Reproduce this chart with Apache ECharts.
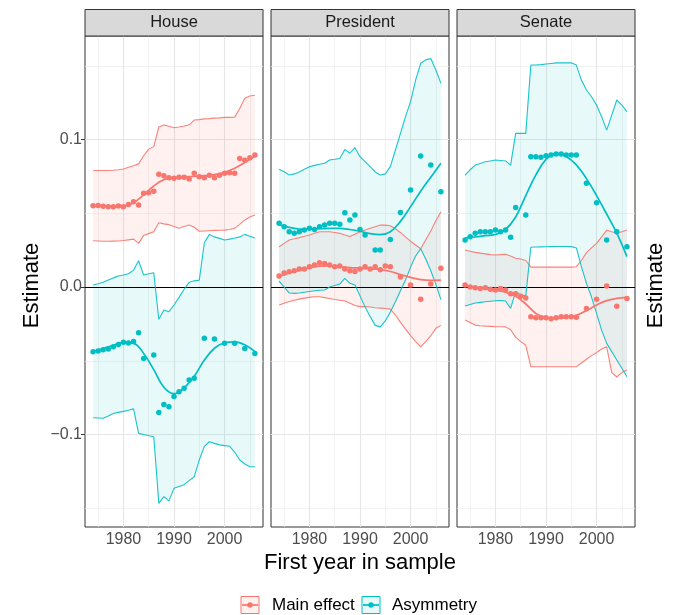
<!DOCTYPE html>
<html>
<head>
<meta charset="utf-8">
<title>Estimate by first year in sample</title>
<script src="https://cdn.jsdelivr.net/npm/echarts@6.0.0/dist/echarts.min.js"></script>
<style>
  html, body { margin: 0; padding: 0; background: #ffffff; }
  #chart { width: 677px; height: 615px; }
</style>
</head>
<body>
<div id="chart"></div>
<script>
// ---- data -------------------------------------------------------------
const panelNames = ['House', 'President', 'Senate'];
const seriesNames = ['Main effect', 'Asymmetry'];
const xTicks = [1980, 1990, 2000];
const yTicks = [-0.1, 0, 0.1];

const years = [1974, 1975, 1976, 1977, 1978, 1979, 1980, 1981, 1982, 1983,
               1984, 1985, 1986, 1987, 1988, 1989, 1990, 1991, 1992, 1993,
               1994, 1995, 1996, 1997, 1998, 1999, 2000, 2001, 2002, 2003,
               2004, 2005, 2006];
const fitYears = [1974, 1976, 1978, 1980, 1982, 1984, 1986, 1988, 1990,
                  1992, 1994, 1996, 1998, 2000, 2002, 2004, 2006];

// House
const houseMainPts = [0.0551, 0.0552, 0.0548, 0.0545, 0.0545, 0.0549, 0.0544, 0.0560, 0.0578, 0.0556,
                      0.0635, 0.0640, 0.0650, 0.0764, 0.0755, 0.0741, 0.0737, 0.0745, 0.0745, 0.0733,
                      0.0771, 0.0748, 0.0741, 0.0758, 0.0741, 0.0758, 0.0771, 0.0775, 0.0771, 0.0872,
                      0.0860, 0.0877, 0.0895];
const houseMainHi = [0.0790, 0.0790, 0.0790, 0.0790, 0.0792, 0.0795, 0.0800, 0.0812, 0.0822, 0.0835,
                     0.0890, 0.0935, 0.0952, 0.1085, 0.1098, 0.1090, 0.1080, 0.1085, 0.1092, 0.1100,
                     0.1132, 0.1135, 0.1140, 0.1142, 0.1145, 0.1147, 0.1150, 0.1150, 0.1152, 0.1210,
                     0.1280, 0.1295, 0.1300];
const houseMainLo = [0.0314, 0.0312, 0.0310, 0.0310, 0.0311, 0.0312, 0.0315, 0.0320, 0.0325, 0.0296,
                     0.0350, 0.0362, 0.0375, 0.0436, 0.0428, 0.0423, 0.0410, 0.0398, 0.0410, 0.0420,
                     0.0405, 0.0378, 0.0380, 0.0382, 0.0384, 0.0385, 0.0386, 0.0390, 0.0398, 0.0425,
                     0.0455, 0.0475, 0.0488];
const houseMainFit = [0.0551, 0.0547, 0.0545, 0.0548, 0.0572, 0.0625, 0.0685, 0.0728, 0.0743,
                      0.0747, 0.0751, 0.0755, 0.0762, 0.0778, 0.0805, 0.0845, 0.0886];
const houseAsymPts = [-0.0438, -0.0434, -0.0425, -0.0420, -0.0405, -0.0389, -0.0375, -0.0380, -0.0370, -0.0310,
                      -0.0484, null, -0.0461, -0.0850, -0.0796, -0.0811, -0.0743, -0.0710, -0.0687, -0.0630,
                      -0.0619, null, -0.0348, null, -0.0352, null, -0.0382, null, -0.0382, null,
                      -0.0416, null, -0.0450];
const houseAsymHi = [0.0014, 0.0022, 0.0032, 0.0047, 0.0062, 0.0075, 0.0082, 0.0090, 0.0115, 0.0178,
                     0.0081, 0.0090, 0.0097, -0.0219, -0.0156, -0.0167, -0.0122, -0.0070, -0.0015, 0.0032,
                     0.0042, 0.0047, 0.0300, 0.0357, 0.0340, 0.0330, 0.0319, 0.0325, 0.0332, 0.0340,
                     0.0357, 0.0345, 0.0332];
const houseAsymLo = [-0.0886, -0.0888, -0.0890, -0.0875, -0.0857, -0.0850, -0.0843, -0.0835, -0.0826, -0.0992,
                     -0.1000, -0.1008, -0.1015, -0.1467, -0.1421, -0.1450, -0.1365, -0.1352, -0.1340, -0.1313,
                     -0.1286, -0.1173, -0.1080, -0.1049, -0.1060, -0.1070, -0.1075, -0.1080, -0.1120, -0.1173,
                     -0.1200, -0.1218, -0.1218];
const houseAsymFit = [-0.0437, -0.0415, -0.0395, -0.0377, -0.0382, -0.0450, -0.0560, -0.0680, -0.0723,
                      -0.0683, -0.0605, -0.0495, -0.0415, -0.0378, -0.0372, -0.0392, -0.0438];

// President
const presMainPts = [0.0075, 0.0095, 0.0104, 0.0111, 0.0122, 0.0122, 0.0138, 0.0149, 0.0165, 0.0160,
                     0.0149, 0.0138, 0.0143, 0.0122, 0.0111, 0.0106, 0.0122, 0.0138, 0.0122, 0.0138,
                     0.0118, 0.0143, 0.0138, null, 0.0068, null, 0.0014, null, -0.0083, null,
                     0.0020, null, 0.0127];
const presMainHi = [0.0273, 0.0296, 0.0319, 0.0327, 0.0335, 0.0344, 0.0353, 0.0364, 0.0375, 0.0375,
                    0.0375, 0.0370, 0.0364, 0.0353, 0.0342, 0.0358, 0.0375, 0.0386, 0.0398, 0.0409,
                    0.0420, 0.0420, 0.0415, 0.0395, 0.0370, 0.0340, 0.0310, 0.0285, 0.0260, 0.0320,
                    0.0380, 0.0450, 0.0510];
const presMainLo = [-0.0122, -0.0110, -0.0098, -0.0090, -0.0082, -0.0075, -0.0070, -0.0066, -0.0066, -0.0072,
                    -0.0078, -0.0085, -0.0090, -0.0095, -0.0110, -0.0125, -0.0133, -0.0133, -0.0135, -0.0140,
                    -0.0143, -0.0146, -0.0150, -0.0190, -0.0240, -0.0285, -0.0330, -0.0370, -0.0405, -0.0370,
                    -0.0330, -0.0280, -0.0260];
const presMainFit = [0.0072, 0.0095, 0.0115, 0.0130, 0.0142, 0.0143, 0.0138, 0.0132, 0.0128,
                     0.0124, 0.0118, 0.0105, 0.0085, 0.0065, 0.0050, 0.0045, 0.0047];
const presAsymPts = [0.0432, 0.0409, 0.0375, 0.0364, 0.0375, 0.0387, 0.0398, 0.0390, 0.0409, 0.0420,
                     0.0432, 0.0432, 0.0425, 0.0504, 0.0454, 0.0488, 0.0390, 0.0353, null, 0.0251,
                     0.0251, null, 0.0323, null, 0.0506, null, 0.0658, null, 0.0888, null,
                     0.0827, null, 0.0646];
const presAsymHi = [0.0798, 0.0782, 0.0759, 0.0767, 0.0780, 0.0798, 0.0816, 0.0825, 0.0832, 0.0839,
                    0.0861, 0.0866, 0.0872, 0.0933, 0.0907, 0.0945, 0.0884, 0.0850, 0.0816, 0.0780,
                    0.0759, 0.0767, 0.0816, 0.0929, 0.1042, 0.1155, 0.1257, 0.1403, 0.1517, 0.1540,
                    0.1550, 0.1471, 0.1381];
const presAsymLo = [0.0040, 0.0000, -0.0040, -0.0043, -0.0040, -0.0035, -0.0030, -0.0025, -0.0022, -0.0020,
                    0.0000, 0.0010, 0.0020, 0.0059, 0.0025, 0.0014, -0.0060, -0.0135, -0.0200, -0.0260,
                    -0.0270, -0.0230, -0.0170, -0.0100, -0.0025, 0.0047, 0.0135, 0.0210, 0.0260, 0.0190,
                    0.0110, 0.0020, -0.0085];
const presAsymFit = [0.0423, 0.0405, 0.0393, 0.0392, 0.0395, 0.0398, 0.0398, 0.0390, 0.0378,
                     0.0362, 0.0355, 0.0375, 0.0445, 0.0545, 0.0650, 0.0745, 0.0839];

// Senate
const senMainPts = [0.0014, 0.0000, -0.0005, -0.0010, -0.0005, -0.0015, -0.0020, -0.0010, -0.0020, -0.0045,
                    -0.0045, -0.0063, -0.0075, -0.0201, -0.0208, -0.0208, -0.0208, -0.0215, -0.0208, -0.0201,
                    -0.0201, -0.0201, -0.0205, null, -0.0145, null, -0.0083, null, 0.0007, null,
                    -0.0130, null, -0.0077];
const senMainHi = [0.0251, 0.0243, 0.0235, 0.0230, 0.0225, 0.0220, 0.0217, 0.0220, 0.0222, 0.0210,
                   0.0195, 0.0190, 0.0180, 0.0135, 0.0135, 0.0135, 0.0135, 0.0135, 0.0135, 0.0135,
                   0.0135, 0.0135, 0.0138, 0.0180, 0.0233, 0.0265, 0.0296, 0.0340, 0.0386, 0.0375,
                   0.0364, 0.0375, 0.0386];
const senMainLo = [-0.0224, -0.0240, -0.0258, -0.0262, -0.0265, -0.0267, -0.0269, -0.0269, -0.0270, -0.0290,
                   -0.0340, -0.0370, -0.0395, -0.0540, -0.0540, -0.0540, -0.0540, -0.0540, -0.0540, -0.0540,
                   -0.0540, -0.0540, -0.0540, -0.0515, -0.0490, -0.0465, -0.0445, -0.0420, -0.0405, -0.0580,
                   -0.0610, -0.0580, -0.0563];
const senMainFit = [0.0014, -0.0002, -0.0012, -0.0023, -0.0035, -0.0063, -0.0115, -0.0179, -0.0205,
                    -0.0213, -0.0208, -0.0192, -0.0160, -0.0122, -0.0092, -0.0077, -0.0070];
const senAsymPts = [0.0319, 0.0341, 0.0364, 0.0375, 0.0375, 0.0375, 0.0387, 0.0375, 0.0387, 0.0337,
                    0.0540, null, 0.0488, 0.0884, 0.0884, 0.0880, 0.0890, 0.0895, 0.0902, 0.0902,
                    0.0895, 0.0895, 0.0895, null, 0.0703, null, 0.0572, null, 0.0319, null,
                    0.0375, null, 0.0273];
const senAsymHi = [0.0759, 0.0795, 0.0827, 0.0838, 0.0849, 0.0855, 0.0861, 0.0858, 0.0855, 0.0827,
                   0.1042, 0.1042, 0.1042, 0.1505, 0.1505, 0.1508, 0.1512, 0.1516, 0.1520, 0.1520,
                   0.1520, 0.1520, 0.1505, 0.1403, 0.1336, 0.1290, 0.1234, 0.1155, 0.1064, 0.1166,
                   0.1268, 0.1234, 0.1189];
const senAsymLo = [-0.0129, -0.0118, -0.0108, -0.0104, -0.0100, -0.0096, -0.0093, -0.0092, -0.0095, -0.0145,
                   -0.0032, -0.0054, -0.0060, 0.0270, 0.0271, 0.0272, 0.0273, 0.0274, 0.0275, 0.0275,
                   0.0275, 0.0274, 0.0265, 0.0138, 0.0025, -0.0068, -0.0179, -0.0292, -0.0382, -0.0438,
                   -0.0495, -0.0551, -0.0608];
const senAsymFit = [0.0333, 0.0340, 0.0348, 0.0356, 0.0390, 0.0475, 0.0620, 0.0760, 0.0865,
                    0.0905, 0.0885, 0.0828, 0.0735, 0.0620, 0.0495, 0.0365, 0.0206];

// ---- layout & style ---------------------------------------------------
const FONT = "'Liberation Sans', Arial, Helvetica, sans-serif";
const COLORS = ['#F8766D', '#00BFC4'];
const FILLS = ['rgba(248,118,109,0.10)', 'rgba(0,191,196,0.09)'];
const panelLeft = [85, 271, 457];
const panelWidth = 178;
const plotTop = 36;
const plotHeight = 491;
const stripHeight = 26.5;
const xMin = 1972.4, xMax = 2007.6;
const yMin = -0.1627, yMax = 0.1702;
const majorX = xTicks, minorX = [1975, 1985, 1995, 2005];
const majorY = yTicks, minorY = [-0.15, -0.05, 0.05, 0.15];

const panelData = [
  [{ pts: houseMainPts, lo: houseMainLo, hi: houseMainHi, fit: houseMainFit },
   { pts: houseAsymPts, lo: houseAsymLo, hi: houseAsymHi, fit: houseAsymFit }],
  [{ pts: presMainPts, lo: presMainLo, hi: presMainHi, fit: presMainFit },
   { pts: presAsymPts, lo: presAsymLo, hi: presAsymHi, fit: presAsymFit }],
  [{ pts: senMainPts, lo: senMainLo, hi: senMainHi, fit: senMainFit },
   { pts: senAsymPts, lo: senAsymLo, hi: senAsymHi, fit: senAsymFit }]
];

const pairs = (xs, vs) => xs.map((x, i) => [x, vs[i]]).filter(d => d[1] !== null);
const fmtYTick = v => (v < 0 ? '\u2212' : '') + Math.abs(v).toFixed(1);
const fmtXTick = v => String(Math.round(v));

const grids = [], xAxes = [], yAxes = [], series = [], graphics = [];

panelNames.forEach((name, gi) => {
  grids.push({
    left: panelLeft[gi], top: plotTop, width: panelWidth, height: plotHeight,
    show: true, backgroundColor: '#ffffff', borderColor: '#333333', borderWidth: 1,
    containLabel: false
  });
  xAxes.push({
    type: 'value', gridIndex: gi, min: xMin, max: xMax,
    axisLine: { show: false }, splitLine: { show: false },
    axisTick: { show: true, customValues: xTicks, length: 4, lineStyle: { color: '#333333', width: 1 } },
    axisLabel: { customValues: xTicks, formatter: fmtXTick, color: '#4D4D4D', fontSize: 16,
                 fontFamily: FONT, margin: 5 }
  });
  yAxes.push({
    type: 'value', gridIndex: gi, min: yMin, max: yMax,
    axisLine: { show: false }, splitLine: { show: false },
    axisTick: { show: gi === 0, customValues: yTicks, length: 4, lineStyle: { color: '#333333', width: 1 } },
    axisLabel: { show: gi === 0, customValues: yTicks, formatter: fmtYTick,
                 color: '#4D4D4D', fontSize: 16, fontFamily: FONT, margin: 3 }
  });

  // panel grid lines
  const gridLines = []
    .concat(minorX.map(v => ({ xAxis: v, lineStyle: { color: '#EDEDED', width: 0.7, type: 'solid' } })))
    .concat(minorY.map(v => ({ yAxis: v, lineStyle: { color: '#EDEDED', width: 0.7, type: 'solid' } })))
    .concat(majorX.map(v => ({ xAxis: v, lineStyle: { color: '#E6E6E6', width: 1.1, type: 'solid' } })))
    .concat(majorY.map(v => ({ yAxis: v, lineStyle: { color: '#E6E6E6', width: 1.1, type: 'solid' } })));
  series.push({
    type: 'line', name: name + ' grid', xAxisIndex: gi, yAxisIndex: gi, data: [], z: 1,
    markLine: { silent: true, z: 1, symbol: ['none', 'none'], label: { show: false },
                animation: false, data: gridLines }
  });

  // confidence ribbons
  panelData[gi].forEach((d, k) => {
    series.push({
      type: 'custom', name: seriesNames[k] + ' band', xAxisIndex: gi, yAxisIndex: gi,
      z: 2, silent: true, data: [[years[0], d.lo[0]]],
      renderItem: (params, api) => {
        const top = years.map((y, i) => api.coord([y, d.hi[i]]));
        const bottom = years.map((y, i) => api.coord([y, d.lo[i]])).reverse();
        return { type: 'polygon', shape: { points: top.concat(bottom) }, style: { fill: FILLS[k] } };
      }
    });
  });

  // zero reference line
  series.push({
    type: 'line', name: name + ' zero', xAxisIndex: gi, yAxisIndex: gi, data: [], z: 3,
    markLine: { silent: true, z: 3, symbol: ['none', 'none'], label: { show: false }, animation: false,
                data: [{ yAxis: 0, lineStyle: { color: '#000000', width: 1.2, type: 'solid' } }] }
  });

  panelData[gi].forEach((d, k) => {
    ['hi', 'lo'].forEach(key => {
      series.push({
        type: 'line', name: seriesNames[k] + ' ' + key, xAxisIndex: gi, yAxisIndex: gi, z: 4,
        data: pairs(years, d[key]), showSymbol: false, silent: true,
        lineStyle: { color: COLORS[k], width: 1.1, opacity: 0.9 }
      });
    });
  });
  panelData[gi].forEach((d, k) => {
    series.push({
      type: 'line', name: seriesNames[k], xAxisIndex: gi, yAxisIndex: gi, z: 5,
      data: pairs(fitYears, d.fit), smooth: 0.4, showSymbol: false, silent: true,
      lineStyle: { color: COLORS[k], width: 1.7 }
    });
  });
  panelData[gi].forEach((d, k) => {
    series.push({
      type: 'scatter', name: seriesNames[k] + ' points', xAxisIndex: gi, yAxisIndex: gi, z: 6,
      data: pairs(years, d.pts), symbol: 'circle', symbolSize: 5.5, silent: true,
      itemStyle: { color: COLORS[k], opacity: 1 }
    });
  });

  // facet strip
  graphics.push({
    type: 'rect', shape: { x: panelLeft[gi], y: plotTop - stripHeight, width: panelWidth, height: stripHeight },
    style: { fill: '#D9D9D9', stroke: '#333333', lineWidth: 1 }, z: 10
  });
  graphics.push({
    type: 'text', x: panelLeft[gi] + panelWidth / 2, y: plotTop - stripHeight / 2, z: 11,
    style: { text: name, font: '16.5px ' + FONT, fill: '#1A1A1A',
             textAlign: 'center', textVerticalAlign: 'middle', align: 'center', verticalAlign: 'middle' }
  });
});

const plotLeft = panelLeft[0];
const plotRight = panelLeft[2] + panelWidth;
const plotMidY = plotTop + plotHeight / 2;

// axis titles
graphics.push({
  type: 'text', x: (plotLeft + plotRight) / 2, y: 563, z: 11,
  style: { text: 'First year in sample', font: '22px ' + FONT, fill: '#000000',
           textAlign: 'center', textVerticalAlign: 'middle', align: 'center', verticalAlign: 'middle' }
});
graphics.push({
  type: 'text', x: 32, y: plotMidY + 4, rotation: Math.PI / 2, z: 11,
  style: { text: 'Estimate', font: '22px ' + FONT, fill: '#000000',
           textAlign: 'center', textVerticalAlign: 'middle', align: 'center', verticalAlign: 'middle' }
});
graphics.push({
  type: 'text', x: 656, y: plotMidY + 4, rotation: Math.PI / 2, z: 11,
  style: { text: 'Estimate', font: '22px ' + FONT, fill: '#000000',
           textAlign: 'center', textVerticalAlign: 'middle', align: 'center', verticalAlign: 'middle' }
});

// legend
const legendKeyX = [241, 362];
const legendTextX = [272, 392];
const legendY = 605;
seriesNames.forEach((s, k) => {
  graphics.push({
    type: 'rect', shape: { x: legendKeyX[k], y: legendY - 8.5, width: 18, height: 17 },
    style: { fill: FILLS[k], stroke: COLORS[k], lineWidth: 1 }, z: 11
  });
  graphics.push({
    type: 'line', shape: { x1: legendKeyX[k] + 1, y1: legendY, x2: legendKeyX[k] + 17, y2: legendY },
    style: { stroke: COLORS[k], lineWidth: 1.7 }, z: 12
  });
  graphics.push({
    type: 'circle', shape: { cx: legendKeyX[k] + 9, cy: legendY, r: 2.7 },
    style: { fill: COLORS[k] }, z: 12
  });
  graphics.push({
    type: 'text', x: legendTextX[k], y: legendY, z: 11,
    style: { text: s, font: '17px ' + FONT, fill: '#000000',
             textAlign: 'left', textVerticalAlign: 'middle', align: 'left', verticalAlign: 'middle' }
  });
});

const chart = echarts.init(document.getElementById('chart'), null, { renderer: 'canvas' });
chart.setOption({
  backgroundColor: '#ffffff',
  animation: false,
  textStyle: { fontFamily: FONT },
  grid: grids,
  xAxis: xAxes,
  yAxis: yAxes,
  series: series,
  graphic: { elements: graphics },
  tooltip: { show: false },
  legend: { show: false }
});
</script>
</body>
</html>
